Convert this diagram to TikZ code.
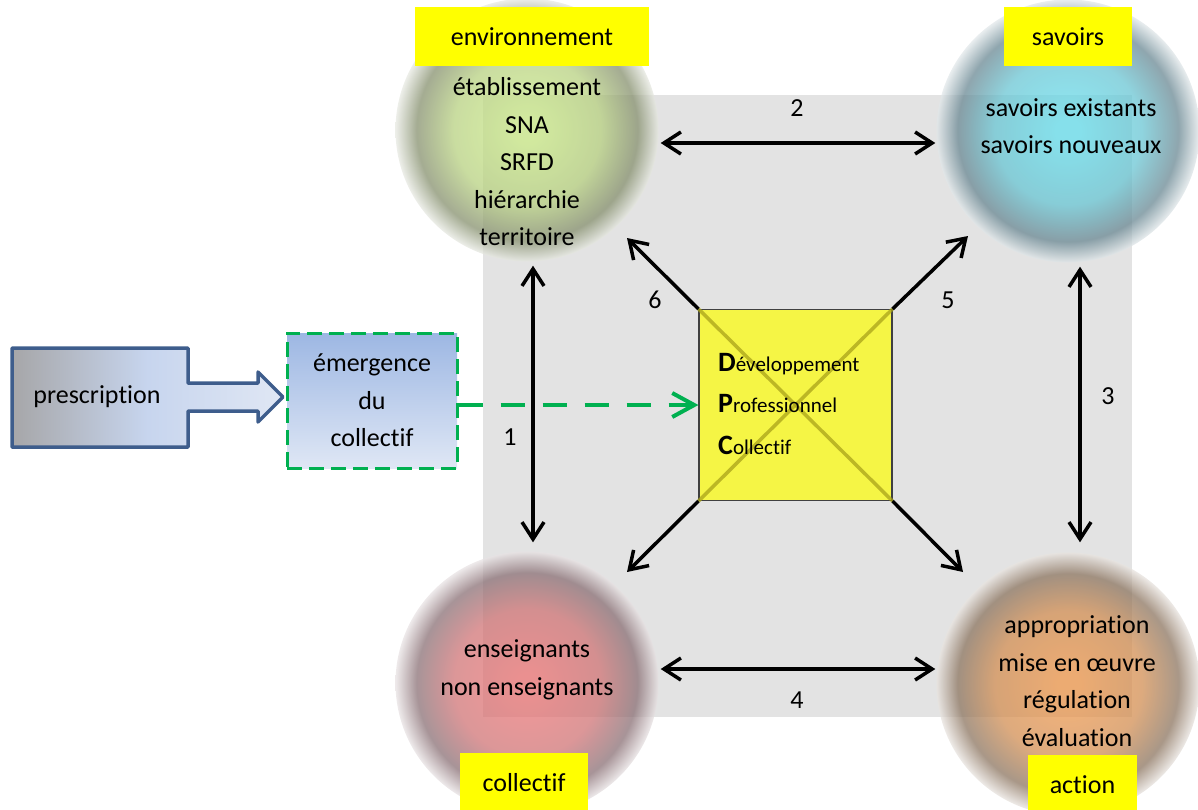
\documentclass[tikz,border=0pt]{standalone}
\usepackage{fontspec}
\setmainfont{Carlito}[Ligatures=NoCommon]
\usetikzlibrary{arrows.meta,calc}
\definecolor{envC}{HTML}{CCEC88}
\definecolor{envE}{HTML}{86906E}
\definecolor{savC}{HTML}{68E0EF}
\definecolor{savE}{HTML}{6A8893}
\definecolor{colC}{HTML}{ED7575}
\definecolor{colE}{HTML}{8A7075}
\definecolor{actC}{HTML}{F0994D}
\definecolor{actE}{HTML}{8C7560}
\definecolor{bggray}{HTML}{E3E3E3}
\definecolor{labyellow}{HTML}{FFFF00}
\definecolor{dpcyellow}{HTML}{F5F545}
\definecolor{dpcdiag}{HTML}{A9A31A}
\definecolor{grn}{HTML}{00B050}
\definecolor{prescline}{HTML}{3E5D8C}
\definecolor{prescL}{HTML}{A6A6A8}
\definecolor{prescM}{HTML}{C7D5EE}
\definecolor{prescR}{HTML}{E0E7F4}
\definecolor{emerT}{HTML}{9DB7E3}
\definecolor{emerB}{HTML}{DFE7F5}
\colorlet{envM}{envC!70!envE}
\colorlet{envR}{envE!20!white}
\colorlet{savM}{savC!70!savE}
\colorlet{savR}{savE!20!white}
\colorlet{colM}{colC!70!colE}
\colorlet{colR}{colE!20!white}
\colorlet{actM}{actC!70!actE}
\colorlet{actR}{actE!20!white}
\pgfdeclareradialshading{ballenv}{\pgfpoint{0bp}{0bp}}{color(0bp)=(envC); color(2bp)=(envC); color(14bp)=(envM); color(21bp)=(envE); color(25bp)=(envR); color(50bp)=(envR)}
\pgfdeclareradialshading{ballsav}{\pgfpoint{0bp}{0bp}}{color(0bp)=(savC); color(2bp)=(savC); color(14bp)=(savM); color(21bp)=(savE); color(25bp)=(savR); color(50bp)=(savR)}
\pgfdeclareradialshading{ballcol}{\pgfpoint{0bp}{0bp}}{color(0bp)=(colC); color(2bp)=(colC); color(14bp)=(colM); color(21bp)=(colE); color(25bp)=(colR); color(50bp)=(colR)}
\pgfdeclareradialshading{ballact}{\pgfpoint{0bp}{0bp}}{color(0bp)=(actC); color(2bp)=(actC); color(14bp)=(actM); color(21bp)=(actE); color(25bp)=(actR); color(50bp)=(actR)}
\begin{document}
\begin{tikzpicture}[x=1pt,y=-1pt,
  txt/.style={font=\fontsize{26}{37.5}\selectfont, align=center, inner sep=0pt},
  ball/.style={circle, minimum size=263pt, inner sep=0pt, shade, opacity=0.75},
  lab/.style={fill=labyellow, minimum height=59pt, inner sep=0pt, font=\fontsize{26}{30}\selectfont},
  num/.style={font=\fontsize{26}{30}\selectfont, inner sep=0pt},
  dbl/.style={line width=3.5pt, {Straight Barb[length=17pt,width=22pt]}-{Straight Barb[length=17pt,width=22pt]}},
  sgl/.style={line width=3.5pt, -{Straight Barb[length=17pt,width=22pt]}},
  dpcline/.style={font=\fontsize{21}{25}\selectfont, inner sep=0pt, anchor=base west}
]
\useasboundingbox (0,0) rectangle (1198,809);
\clip (0,0) rectangle (1198,809);
% background
\fill[bggray] (483,95) rectangle (1132,717);
% circles
\node[ball, shading=ballenv] (env) at (527,130) {};
\node[ball, shading=ballsav] (sav) at (1068,131) {};
\node[ball, shading=ballcol] (col) at (527,683) {};
\node[ball, shading=ballact] (act) at (1068,684) {};
% circle texts
\node[txt] (envtxt) at (527,162) {établissement\\SNA\\SRFD\\hiérarchie\\territoire};
\node[txt] (savtxt) at (1071,126) {savoirs existants\\savoirs nouveaux};
\node[txt] (coltxt) at (527,670) {enseignants\\non enseignants};
\node[txt] (acttxt) at (1077,681) {appropriation\\mise en œuvre\\régulation\\évaluation};
% yellow labels
\node[lab, minimum width=234pt] (labenv) at (532,36.5) {environnement};
\node[lab, minimum width=128pt] (labsav) at (1068,36.5) {savoirs};
\node[lab, minimum width=128pt] (labcol) at (524,782.5) {collectif};
\node[lab, minimum width=109pt] (labact) at (1082.5,784.5) {action};
% center square
\node[draw=black!75, line width=1.2pt, fill=dpcyellow, minimum width=193pt, minimum height=191pt, inner sep=0pt] (dpc) at (795.5,405) {};
\draw[dpcdiag, line width=3.5pt, opacity=0.75] (dpc.north west) -- (dpc.south east);
\draw[dpcdiag, line width=3.5pt, opacity=0.75] (dpc.north east) -- (dpc.south west);
\node[dpcline] (d1) at (718,371) {\fontsize{28}{30}\selectfont\bfseries D\fontsize{21}{25}\mdseries\selectfont éveloppement};
\node[dpcline] (d2) at (718,412) {\fontsize{28}{30}\selectfont\bfseries P\fontsize{21}{25}\mdseries\selectfont rofessionnel};
\node[dpcline] (d3) at (718,454) {\fontsize{28}{30}\selectfont\bfseries C\fontsize{21}{25}\mdseries\selectfont ollectif};
% arrows between circles
\draw[dbl] ([xshift=6pt,yshift=-4pt]env.south) -- ([xshift=6pt,yshift=9pt]col.north);
\draw[dbl] ([xshift=2pt,yshift=-13pt]env.east) -- ([xshift=-1pt,yshift=-12pt]sav.west);
\draw[dbl] ([xshift=12pt,yshift=-4pt]sav.south) -- ([xshift=12pt,yshift=10pt]act.north);
\draw[dbl] ([xshift=2pt,yshift=14pt]col.east) -- ([xshift=-1pt,yshift=15pt]act.west);
% diagonal arrows
\coordinate (t5) at (968,236);
\coordinate (t6) at (627,238);
\coordinate (tbl) at (627,572);
\coordinate (tbr) at (963,572);
\draw[sgl] (dpc.north east) -- (t5);
\draw[sgl] (dpc.north west) -- (t6);
\draw[sgl] (dpc.south west) -- (tbl);
\draw[sgl] (dpc.south east) -- (tbr);
% numbers
\node[num] (n1) at (510,437) {1};
\node[num] (n2) at (797,108) {2};
\node[num] (n3) at (1108,396) {3};
\node[num] (n4) at (797,700) {4};
\node[num] (n5) at (948,300) {5};
\node[num] (n6) at (655,300) {6};
% emergence box
\node[txt, draw=grn, line width=3pt, dash pattern=on 15pt off 7pt, top color=emerT, bottom color=emerB, minimum width=170pt, minimum height=135pt] (emer) at (372,400.5) {émergence\\du\\collectif};
\draw[grn, line width=4pt, dash pattern=on 24pt off 18pt, -{Straight Barb[length=22pt,width=24pt]}] (emer.east |- dpc.west) -- (dpc.west);
% prescription block arrow
\draw[prescline, line width=3.5pt, line join=round, left color=prescL, right color=prescR, middle color=prescM]
  (12,348) -- (188,348) -- (188,383) -- (258,383) -- (258,372) -- (283,397) -- (258,422) -- (258,411) -- (188,411) -- (188,447) -- (12,447) -- cycle;
\node[txt] (presc) at (97,397) {prescription};
\end{tikzpicture}
\end{document}
